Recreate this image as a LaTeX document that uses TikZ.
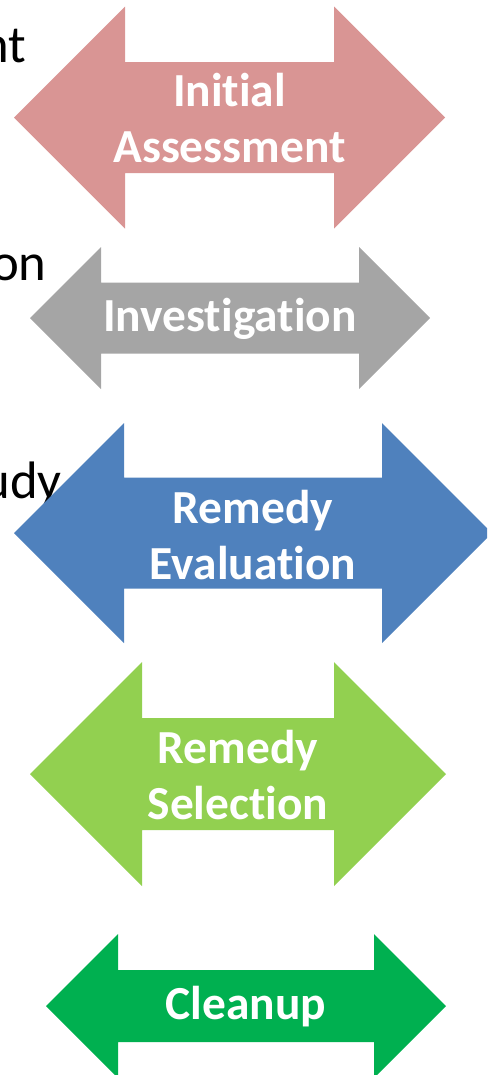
\documentclass[tikz,border=0pt]{standalone}
\usepackage{fontspec}
\setmainfont{Carlito}[Ligatures=NoCommon]
\usepackage{tikz}
\definecolor{assesspink}{HTML}{D99594}
\definecolor{investgray}{HTML}{A5A5A5}
\definecolor{evalblue}{HTML}{4F81BD}
\definecolor{selectgreen}{HTML}{92D050}
\definecolor{cleangreen}{HTML}{00B050}
\tikzstyle{phase} = [text=white, font=\fontsize{27}{31.5}\selectfont\bfseries, align=center, inner sep=0pt]
\tikzstyle{sidetext} = [text=black, font=\fontsize{30}{36}\selectfont, inner sep=0pt, anchor=base east]
% centre x, centre y, half length, half shaft, head depth, colour
\newcommand{\dblarrow}[6]{%
  \fill[#6] ({#1-#3},{#2}) -- ({#1-#3+#5},{#2-#5}) -- ({#1-#3+#5},{#2-#4})
    -- ({#1+#3-#5},{#2-#4}) -- ({#1+#3-#5},{#2-#5}) -- ({#1+#3},{#2})
    -- ({#1+#3-#5},{#2+#5}) -- ({#1+#3-#5},{#2+#4}) -- ({#1-#3+#5},{#2+#4})
    -- ({#1-#3+#5},{#2+#5}) -- cycle;}

\begin{document}
\begin{tikzpicture}[x=0.02cm, y=-0.02cm]
    \clip (0,0) rectangle (487,1075);

    % cut-off labels at the left edge
    \node[sidetext] (lbla) at (27,62) {nt};
    \node[sidetext] (lblb) at (47,280) {on};
    \node[sidetext] (lblc) at (62,498) {udy};

    \dblarrow{229.5}{117.5}{215.5}{55.5}{111}{assesspink}
    \dblarrow{230}{318}{200}{35.5}{71}{investgray}
    \dblarrow{253}{533}{239}{55.5}{110}{evalblue}
    \dblarrow{238}{774}{208}{56}{112}{selectgreen}
    \dblarrow{246}{1006}{200}{36}{72}{cleangreen}

    \node[phase] (assess) at (229.5,118) {Initial\\Assessment};
    \node[phase] (invest) at (230,319) {Investigation};
    \node[phase] (evaluate) at (253,535) {Remedy\\Evaluation};
    \node[phase] (select) at (238,775) {Remedy\\Selection};
    \node[phase] (cleanup) at (246,1007) {Cleanup};
\end{tikzpicture}
\end{document}
